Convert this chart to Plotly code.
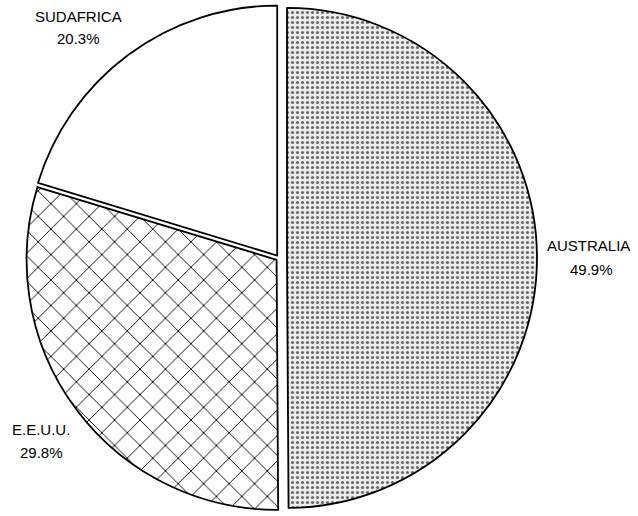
import plotly.graph_objects as go

labels = ["AUSTRALIA", "E.E.U.U.", "SUDAFRICA"]
values = [49.9, 29.8, 20.3]
pulls = [0.032, 0.012, 0.012]

# label placement (pixel centers of name line / percent line)
label_pos = {
    "AUSTRALIA": ((588, 246), (591, 269)),
    "E.E.U.U.": ((41, 429), (41, 452)),
    "SUDAFRICA": ((78, 16), (78, 38)),
}

W, H = 638, 516

fig = go.Figure(go.Pie(
    labels=labels,
    values=values,
    sort=False,
    direction="clockwise",
    rotation=0,
    pull=pulls,
    textinfo="none",
    hoverinfo="label+percent",
    domain=dict(x=[0, 558 / W], y=[0, 1]),
    marker=dict(
        colors=["#e0e0e0", "white", "white"],
        line=dict(color="black", width=1.8),
        pattern=dict(
            shape=[".", "x", ""],
            fgcolor=["#6a6a6a", "black", "black"],
            bgcolor=["#ececec", "white", "white"],
            size=[5, 18, 8],
            solidity=[0.3, 0.1, 0.3],
            fillmode="replace",
        ),
    ),
    showlegend=False,
))

annotations = []
for lab, val in zip(labels, values):
    (nx, ny), (px, py) = label_pos[lab]
    annotations.append(dict(text=lab, x=nx / W, y=1 - ny / H, xref="paper", yref="paper",
                            showarrow=False, xanchor="center", yanchor="middle"))
    annotations.append(dict(text=f"{val:.1f}%", x=px / W, y=1 - py / H, xref="paper", yref="paper",
                            showarrow=False, xanchor="center", yanchor="middle"))

fig.update_layout(
    width=W, height=H,
    margin=dict(l=0, r=0, t=0, b=0),
    paper_bgcolor="white",
    plot_bgcolor="white",
    font=dict(family="Liberation Sans, Arial, sans-serif", size=15, color="black"),
    annotations=annotations,
)

fig.write_html("out.html", config={"displayModeBar": False},
               post_script="document.body.style.margin='0';document.body.style.overflow='hidden';")
